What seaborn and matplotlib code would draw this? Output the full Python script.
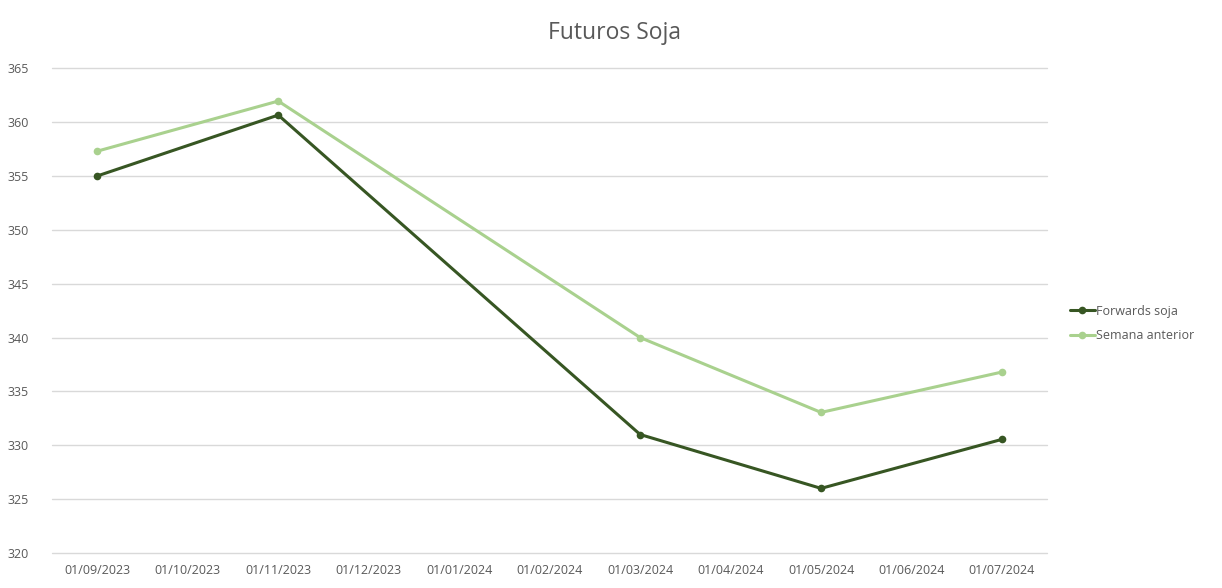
import pandas as pd
import matplotlib
matplotlib.use('Agg')
import matplotlib.pyplot as plt
import seaborn as sns

# eixo de datas (mensal)
meses = ['01/09/2023', '01/10/2023', '01/11/2023', '01/12/2023', '01/01/2024', '01/02/2024',
         '01/03/2024', '01/04/2024', '01/05/2024', '01/06/2024', '01/07/2024']

# pontos com valor
datas = ['01/09/2023', '01/11/2023', '01/03/2024', '01/05/2024', '01/07/2024']
forwards_soja = [355.0, 360.65, 331.0, 326.0, 330.55]
semana_anterior = [357.3, 361.95, 340.0, 333.05, 336.8]

yticks = [320, 325, 330, 335, 340, 345, 350, 355, 360, 365]

df = pd.DataFrame({
    'data': datas * 2,
    'valor': forwards_soja + semana_anterior,
    'serie': ['Forwards soja'] * len(datas) + ['Semana anterior'] * len(datas),
})
df['x'] = df['data'].apply(lambda d: meses.index(d))

sns.set_style('white')
plt.rcParams['font.family'] = ['Open Sans', 'DejaVu Sans']

fig = plt.figure(figsize=(12.22, 5.88), dpi=100)
ax = fig.add_axes([0.0426, 0.0595, 0.8144, 0.8245])

cores = {'Forwards soja': '#375623', 'Semana anterior': '#A9D18E'}
sns.lineplot(data=df, x='x', y='valor', hue='serie', palette=cores, marker='o',
             markersize=5.5, markeredgewidth=0, linewidth=2.2, ax=ax)

ax.set_xlim(-0.5, len(meses) - 0.5)
ax.set_ylim(320, 365)
ax.set_xticks(range(len(meses)))
ax.set_xticklabels(meses)
ax.set_yticks(yticks)
ax.tick_params(axis='both', length=0, labelsize=9, colors='#595959')
ax.tick_params(axis='x', pad=8)
ax.tick_params(axis='y', pad=17)
ax.grid(axis='y', color='#D9D9D9', linewidth=1)
for gl in ax.get_ygridlines():
    gl.set_clip_on(False)
ax.set_axisbelow(True)
for s in ax.spines.values():
    s.set_visible(False)
ax.set_xlabel('')
ax.set_ylabel('')

fig.suptitle('Futuros Soja', x=0.503, y=0.965, fontsize=16.5, color='#595959')

leg = ax.legend(loc='center left', bbox_to_anchor=(0.866, 0.45), bbox_transform=fig.transFigure,
                frameon=False, fontsize=9, handlelength=2.0, handletextpad=0.1, labelspacing=0.9)
for t in leg.get_texts():
    t.set_color('#595959')

fig.savefig('out.png', dpi=100)
